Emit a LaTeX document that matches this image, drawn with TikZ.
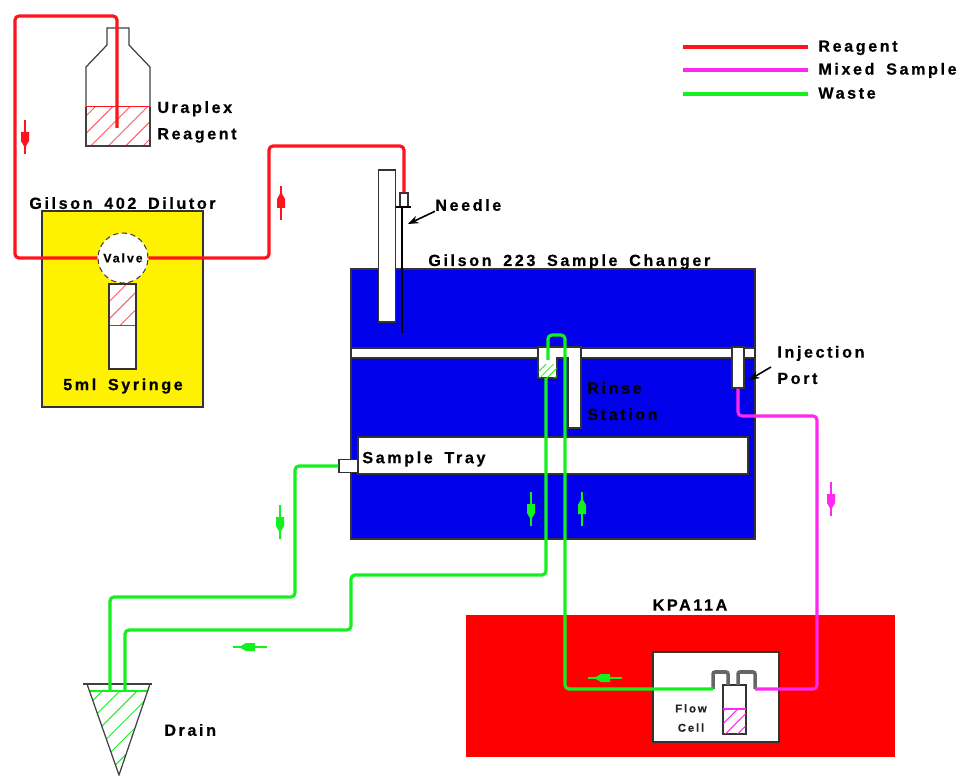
\documentclass[tikz,border=0pt]{standalone}
\usepackage{fontspec}
\setmainfont[LetterSpace=16,WordSpace=1.65,BoldFont={Liberation Sans Bold},BoldFeatures={FakeBold=0.5}]{Liberation Sans}
\usepackage{xcolor}
\usetikzlibrary{arrows.meta,patterns.meta,positioning,calc}
\definecolor{reagentred}{RGB}{255,20,30}
\definecolor{mixedpink}{RGB}{255,40,240}
\definecolor{wastegreen}{RGB}{20,240,30}
\definecolor{changerblue}{RGB}{0,0,235}

\begin{document}
\begin{tikzpicture}[
    x=0.02cm, y=-0.02cm,
    panel/.style={rectangle, draw=black!80, line width=0.7pt, inner sep=0pt},
    part/.style={panel, fill=white},
    tag/.style={font=\bfseries\fontsize{9.2}{15}\selectfont, inner sep=0pt, align=left, text=black},
    smalltag/.style={font=\bfseries\fontsize{6.5}{11}\selectfont, inner sep=0pt, align=center, text=black!85},
    tube/.style={line width=1.8pt, rounded corners=0.08cm},
    reagent/.style={tube, draw=reagentred},
    mixed/.style={tube, draw=mixedpink},
    waste/.style={tube, draw=wastegreen},
    glass/.style={draw=black!75, line width=0.7pt},
    pointer/.style={-{Stealth[length=6pt,width=4.5pt]}, line width=0.9pt, black},
    liquid/.style={rectangle, inner sep=0pt, pattern={Lines[angle=45,distance=7pt,line width=0.55pt]}}
]
    \useasboundingbox (0,0) rectangle (963,776);

    % Legend
    \node[tag, anchor=mid west, inner xsep=0.2cm] (legreagent) at (808,47) {Reagent};
    \node[tag, anchor=mid west, inner xsep=0.2cm] (legmixed) at (808,70) {Mixed Sample};
    \node[tag, anchor=mid west, inner xsep=0.2cm] (legwaste) at (808,94) {Waste};
    \coordinate (legr) at (683,47);
    \coordinate (legm) at (683,70);
    \coordinate (legw) at (683,94);
    \draw[reagent] (legr) -- (legreagent.mid west);
    \draw[mixed] (legm) -- (legmixed.mid west);
    \draw[waste] (legw) -- (legwaste.mid west);

    % Reagent bottle
    \node[liquid, pattern color=reagentred!70, minimum width=1.28cm, minimum height=0.78cm] (bottleliquid) at (118,126.5) {};
    \draw[glass] (86,107) -- (86,67) -- (107,45) -- (107,28) -- (129,28) -- (129,45) -- (150,67) -- (150,107);
    \draw[glass] (86,107) -- (86,146) -- (150,146) -- (150,107);
    \draw[reagentred, line width=0.8pt] (bottleliquid.north west) -- (bottleliquid.north east);
    \node[tag, anchor=west] (bottlelabel) at (157,122) {Uraplex\\Reagent};

    % Dilutor
    \node[panel, fill=yellow, minimum width=3.22cm, minimum height=3.92cm] (dilutor) at (122.5,309) {};
    \node[tag, above=0.02cm of dilutor] (dilutorlabel) {Gilson 402 Dilutor};
    \node[part, minimum width=0.54cm, minimum height=1.7cm] (syringe) at (122.5,326.5) {};
    \node[liquid, pattern color=reagentred!70, minimum width=0.5cm, minimum height=0.8cm] (syringeliquid) at (122.5,305) {};
    \draw[reagentred, line width=0.8pt] (syringeliquid.south west) -- (syringeliquid.south east);
    \node[circle, draw=black!75, densely dashed, line width=0.6pt, fill=white, minimum size=1cm, inner sep=0pt,
        font=\bfseries\fontsize{7}{8}\selectfont] (valve) at (123,258) {Valve};
    \node[tag, anchor=center] (syringelabel) at (123,386) {5ml Syringe};

    % Sample changer
    \node[panel, fill=changerblue, minimum width=8.08cm, minimum height=5.4cm] (changer) at (553,404) {};
    \node[tag, anchor=base west] (changerlabel) at (428,266) {Gilson 223 Sample Changer};
    \node[part, minimum width=8.08cm, minimum height=0.2cm] (rail) at (553,353) {};
    \node[part, minimum width=7.8cm, minimum height=0.74cm] (tray) at (553,455.5) {};
    \node[tag, anchor=west] (traylabel) at (362,459) {Sample Tray};
    \node[part, minimum width=0.38cm, minimum height=0.26cm] (trayport) at (348.5,466) {};

    % Needle
    \node[part, minimum width=0.34cm, minimum height=3.04cm] (needlebar) at (387,246) {};
    \node[part, minimum width=0.16cm, minimum height=0.28cm] (needlecap) at (404,200) {};
    \coordinate (needletop) at (402,207);
    \coordinate (needleend) at (402,333);
    \coordinate (needletip) at (408,224);
    \draw[black, line width=1.6pt] (needletop) -- (needleend);
    \draw[black, line width=1pt] (396,207) -- (411,207);
    \node[tag, anchor=west] (needlelabel) at (435,205) {Needle};
    \draw[pointer] (needlelabel.south west) -- (needletip);

    % Rinse station
    \draw[part] (538,347) -- (581,347) -- (581,428) -- (568,428) -- (568,358) -- (557,358) -- (557,378) -- (538,378) -- cycle;
    \node[liquid, pattern={Lines[angle=45,distance=3pt,line width=0.5pt]}, pattern color=wastegreen, minimum width=0.36cm, minimum height=0.26cm] (cupliquid) at (547.5,371) {};
    \coordinate (cupin) at (548,360);
    \coordinate (cupout) at (546,378);
    \node[tag, anchor=west] (rinselabel) at (587,401) {Rinse\\Station};

    % Injection port
    \node[part, minimum width=0.24cm, minimum height=0.82cm] (injport) at (738,367.5) {};
    \node[tag, anchor=west] (injlabel) at (777,365) {Injection\\Port};
    \coordinate (injfrom) at (771,367);
    \coordinate (injtip) at (749,380);
    \draw[pointer] (injfrom) -- (injtip);

    % KPA11A and flow cell
    \node[panel, draw=none, fill=red, minimum width=8.58cm, minimum height=2.84cm] (kpa) at (680.5,686) {};
    \node[tag] (kpalabel) at (690,605) {KPA11A};
    \node[part, minimum width=2.52cm, minimum height=1.8cm] (cell) at (716,697) {};
    \node[part, minimum width=0.46cm, minimum height=0.98cm] (vial) at (734.5,709.5) {};
    \node[liquid, pattern={Lines[angle=45,distance=5pt,line width=0.6pt]}, pattern color=mixedpink, minimum width=0.44cm, minimum height=0.48cm] (vialliquid) at (734.5,721.5) {};
    \draw[mixedpink, line width=0.8pt] (vialliquid.north west) -- (vialliquid.north east);
    \coordinate (cellin) at (713,689);
    \coordinate (cellout) at (755,689);
    \draw[draw=black!60, line width=2pt, rounded corners=0.04cm] (cellin) -- (713,672) -- (728,672) -- (728,685);
    \draw[draw=black!60, line width=2pt, rounded corners=0.04cm] (738,685) -- (738,672) -- (755,672) -- (cellout);
    \node[smalltag] (celllabel) at (691,718) {Flow\\Cell};

    % Drain
    \coordinate (drainl) at (87,684);
    \coordinate (drainr) at (150,684);
    \coordinate (drainb) at (119,775);
    \begin{scope}
        \clip (drainl) -- (drainr) -- (drainb) -- cycle;
        \fill[pattern={Lines[angle=45,distance=7pt,line width=0.55pt]}, pattern color=wastegreen] (80,691) rectangle (160,776);
    \end{scope}
    \draw[wastegreen, line width=0.8pt] (89,691) -- (148,691);
    \draw[glass] (drainl) -- (drainb) -- (drainr);
    \draw[glass] (83,684) -- (152,684);
    \node[tag, anchor=west] (drainlabel) at (164,730) {Drain};

    % Reagent line
    \coordinate (bottleend) at (117,128);
    \draw[reagent] (bottleend) -- (117,16) -- (15,16) -- (15,258) -- (valve.west);
    \draw[reagent] (valve.east) -- (269,258) -- (269,146) -- (404,146) -- (needlecap.north);

    % Waste lines
    \coordinate (drainin) at (110,691);
    \coordinate (drainintwo) at (125,691);
    \draw[waste] (trayport.west) -- (295,466) -- (295,597) -- (110,597) -- (drainin);
    \draw[waste] (cupout) -- (546,575) -- (351,575) -- (351,630) -- (125,630) -- (drainintwo);
    \draw[waste] (cupin) -- (548,335) -- (565,335) -- (565,689) -- (cellin);

    % Mixed sample line
    \draw[mixed] (injport.south) -- (738,416) -- (817,416) -- (817,689) -- (cellout);

    % Flow markers
    \foreach \px/\py/\rot/\col in {25/137/0/reagentred, 281/203/180/reagentred, 280/522/0/wastegreen,
        531/509/0/wastegreen, 582/509/180/wastegreen, 831/499/0/mixedpink, 250/647/-90/wastegreen, 605/678/-90/wastegreen} {
        \begin{scope}[shift={(\px,\py)}, rotate=\rot]
            \draw[\col, line width=0.6pt] (0,-17) -- (0,17);
            \fill[\col] (-4,-5) -- (4,-5) -- (4,4) -- (0,11) -- (-4,4) -- cycle;
        \end{scope}
    }
\end{tikzpicture}
\end{document}
